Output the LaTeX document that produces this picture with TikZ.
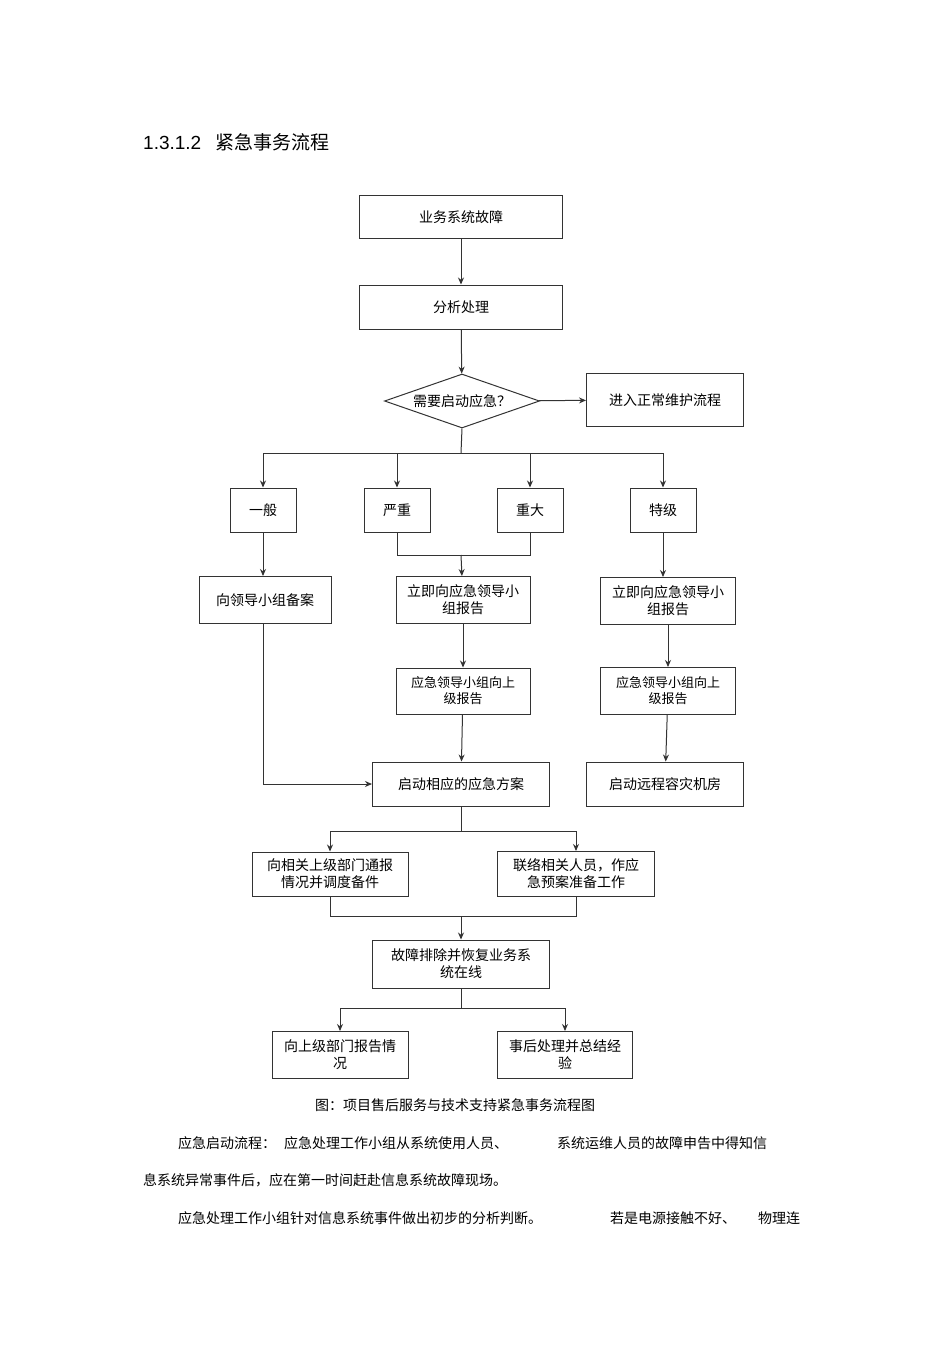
\documentclass[tikz,border=0pt]{standalone}
\usepackage{fontspec}
\setmainfont{Liberation Sans}
\newfontfamily\cjk{Noto Sans CJK SC}
\usetikzlibrary{shapes.geometric,arrows.meta}
\tikzset{
  box/.style={draw=black!80,line width=1pt,align=center,inner sep=1pt,font=\cjk\fontsize{14}{17}\selectfont},
  flow/.style={line width=1pt,draw=black!80,-{Stealth[length=7pt,width=6pt]}},
  link/.style={line width=1pt,draw=black!80},
  txt/.style={anchor=west,inner sep=0pt,font=\cjk\fontsize{14}{17}\selectfont}
}
\begin{document}
\begin{tikzpicture}[x=1pt,y=-1pt]
\useasboundingbox[fill=white] (0,0) rectangle (950,1345);
%title
\node[anchor=west,inner sep=0pt,font=\fontsize{19}{22}\selectfont] (title) at (143,142) {1.3.1.2\hspace{14pt}{\cjk 紧急事务流程}};
%boxes
\node[box,minimum width=203,minimum height=43] (fault) at (461,217) {业务系统故障};
\node[box,minimum width=203,minimum height=44] (anal) at (461,307) {分析处理};
\node[box,diamond,aspect=2.9,minimum width=155,minimum height=54,inner sep=0pt] (need) at (462,401) {需要启动应急？};
\node[box,minimum width=157,minimum height=53] (norm) at (665,400) {进入正常维护流程};
\node[box,minimum width=66,minimum height=44] (gen) at (263,510) {一般};
\node[box,minimum width=66,minimum height=44] (ser) at (397,510) {严重};
\node[box,minimum width=66,minimum height=44] (maj) at (530,510) {重大};
\node[box,minimum width=66,minimum height=44] (spe) at (663,510) {特级};
\node[box,minimum width=132,minimum height=47] (file) at (265,600) {向领导小组备案};
\node[box,minimum width=134,minimum height=47] (rep) at (463,600) {立即向应急领导小\\组报告};
\node[box,minimum width=135,minimum height=47] (repr) at (668,601) {立即向应急领导小\\组报告};
\node[box,minimum width=134,minimum height=46,font=\cjk\fontsize{13}{16}\selectfont] (up) at (463,691) {应急领导小组向上\\级报告};
\node[box,minimum width=135,minimum height=47,font=\cjk\fontsize{13}{16}\selectfont] (upr) at (668,691) {应急领导小组向上\\级报告};
\node[box,minimum width=177,minimum height=44] (plan) at (461,784) {启动相应的应急方案};
\node[box,minimum width=157,minimum height=44] (remote) at (665,784) {启动远程容灾机房};
\node[box,minimum width=156,minimum height=44] (notify) at (330,874) {向相关上级部门通报\\情况并调度备件};
\node[box,minimum width=157,minimum height=45] (contact) at (576,874) {联络相关人员，作应\\急预案准备工作};
\node[box,minimum width=177,minimum height=48] (fix) at (461,964) {故障排除并恢复业务系\\统在线};
\node[box,minimum width=136,minimum height=47] (report) at (340,1055) {向上级部门报告情\\况};
\node[box,minimum width=135,minimum height=47] (sum) at (565,1055) {事后处理并总结经\\验};
%junctions
\coordinate (j1) at (461,453);
\coordinate (j2) at (461,555);
\coordinate (j3) at (461,831);
\coordinate (j4) at (461,916);
\coordinate (j5) at (461,1008);
%connectors
\draw[flow] (fault) -- (anal);
\draw[flow] (anal) -- (need);
\draw[flow] (need) -- (norm);
\draw[link] (need.south) -- (j1);
\draw[flow] (j1) -| (gen);
\draw[flow] (j1) -| (ser);
\draw[flow] (j1) -| (maj);
\draw[flow] (j1) -| (spe);
\draw[link] (ser.south) |- (j2) -| (maj.south);
\draw[flow] (j2) -- (rep);
\draw[flow] (gen) -- (gen |- file.north);
\draw[flow] (spe) -- (spe |- repr.north);
\draw[flow] (rep) -- (up);
\draw[flow] (repr.south -| upr) -- (upr);
\draw[flow] (up) -- (plan);
\draw[flow] (upr) -- (remote);
\draw[flow] (file.south -| gen) |- (plan.west);
\draw[link] (plan.south) -- (j3);
\draw[flow] (j3) -| (notify);
\draw[flow] (j3) -| (contact);
\draw[link] (notify.south) |- (j4) -| (contact.south);
\draw[flow] (j4) -- (fix);
\draw[link] (fix.south) -- (j5);
\draw[flow] (j5) -| (report);
\draw[flow] (j5) -| (sum);
%text
\node[txt,anchor=center] (cap) at (455,1105) {图：项目售后服务与技术支持紧急事务流程图};
\node[txt] (p1) at (178,1143) {应急启动流程：\hspace{8pt}应急处理工作小组从系统使用人员、};
\node[txt] (p1b) at (557,1143) {系统运维人员的故障申告中得知信};
\node[txt] (p2) at (143,1180) {息系统异常事件后，应在第一时间赶赴信息系统故障现场。};
\node[txt] (p3) at (178,1218) {应急处理工作小组针对信息系统事件做出初步的分析判断。};
\node[txt] (p3b) at (610,1218) {若是电源接触不好、};
\node[txt] (p3c) at (758,1218) {物理连};
\end{tikzpicture}
\end{document}
